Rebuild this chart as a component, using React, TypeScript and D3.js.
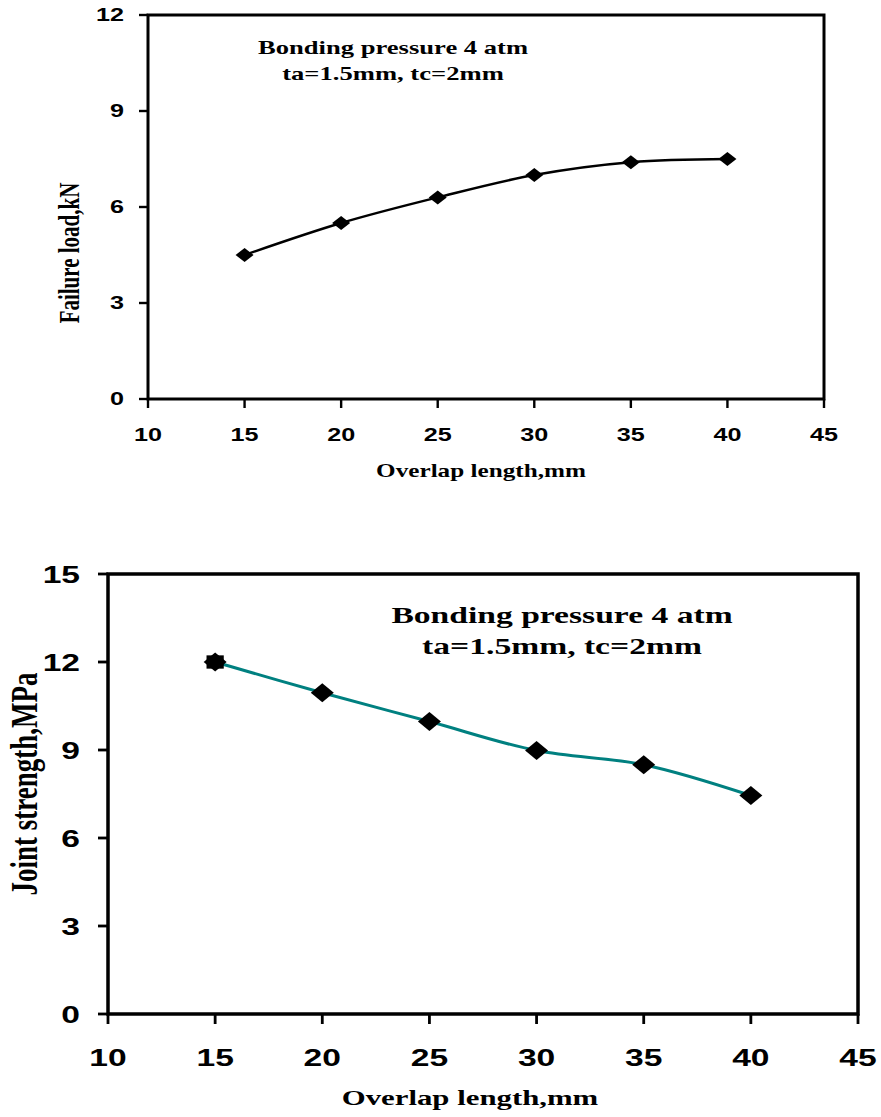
import React from "react";
import * as d3 from "d3";

const overlap = [15, 20, 25, 30, 35, 40];
const failureLoad = [4.5, 5.5, 6.3, 7.0, 7.4, 7.5];
const jointStrength = [12.0, 10.95, 9.97, 8.98, 8.5, 7.45];
const xTicks = [10, 15, 20, 25, 30, 35, 40, 45];
const yTicksTop = [0, 3, 6, 9, 12];
const yTicksBottom = [0, 3, 6, 9, 12, 15];
const titleLines = ["Bonding pressure 4 atm", "ta=1.5mm, tc=2mm"];
const xTitle = "Overlap length,mm";
const yTitleTop = "Failure load,kN";
const yTitleBottom = "Joint strength,MPa";

const SANS = "'Liberation Sans', Arial, sans-serif";
const SERIF = "'Liberation Serif', 'Times New Roman', serif";
const SX = 1.4;

function SText(props: {
  x: number; y: number; size: number; family: string; anchor?: string;
  rotate?: boolean; dy?: string; children: React.ReactNode; sx?: number;
}) {
  const { x, y, size, family, anchor = "middle", rotate = false, dy, children, sx = SX } = props;
  return (
    <g transform={`translate(${x},${y}) scale(${sx},1)${rotate ? " rotate(-90)" : ""}`}>
      <text textAnchor={anchor} fontSize={size} fontFamily={family} fontWeight="bold" dy={dy} fill="#000">
        {children}
      </text>
    </g>
  );
}

function Panel(props: {
  x0: number; x1: number; y0: number; y1: number; yMax: number; yTicks: number[];
  values: number[]; color: string; tickSize: number; tickLen: number; labelGap: number;
  xLabelBaseline: number; titleSize: number; titleX: number; titleY: number[];
  xTitleSize: number; xTitleX: number; xTitleY: number; yTitle: string; yTitleSize: number; yTitleX: number; yTitleY: number;
  markerW: number; markerH: number; lineW: number; frameW: number; firstSquare?: boolean;
}) {
  const p = props;
  const xs = d3.scaleLinear().domain([10, 45]).range([p.x0, p.x1]);
  const ys = d3.scaleLinear().domain([0, p.yMax]).range([p.y1, p.y0]);
  const pts: [number, number][] = overlap.map((o, i) => [xs(o), ys(p.values[i])]);
  const line = d3.line().curve(d3.curveCatmullRom.alpha(0.5))(pts) || "";
  const hw = p.markerW / 2, hh = p.markerH / 2;
  return (
    <g>
      <rect x={p.x0} y={p.y0} width={p.x1 - p.x0} height={p.y1 - p.y0} fill="none" stroke="#000" strokeWidth={p.frameW} />
      {p.yTicks.map((t) => (
        <g key={"y" + t}>
          <line x1={p.x0 - p.tickLen} x2={p.x0} y1={ys(t)} y2={ys(t)} stroke="#000" strokeWidth={p.frameW * 0.8} />
          <SText x={p.x0 - p.tickLen - p.labelGap} y={ys(t)} size={p.tickSize} family={SANS} anchor="end" dy="0.36em">{t}</SText>
        </g>
      ))}
      {xTicks.map((t) => (
        <g key={"x" + t}>
          <line x1={xs(t)} x2={xs(t)} y1={p.y1} y2={p.y1 + p.tickLen} stroke="#000" strokeWidth={p.frameW * 0.8} />
          <SText x={xs(t)} y={p.xLabelBaseline} size={p.tickSize} family={SANS}>{t}</SText>
        </g>
      ))}
      <path d={line} fill="none" stroke={p.color} strokeWidth={p.lineW} />
      {pts.map(([cx, cy], i) => (
        <g key={"m" + i}>
          {p.firstSquare && i === 0 ? (
            <rect x={cx - hw * 0.75} y={cy - hh * 0.7} width={hw * 1.5} height={hh * 1.4} fill="#000" />
          ) : null}
          <path d={`M${cx - hw},${cy}L${cx},${cy - hh}L${cx + hw},${cy}L${cx},${cy + hh}Z`} fill="#000" />
        </g>
      ))}
      {titleLines.map((t, i) => (
        <SText key={"t" + i} x={p.titleX} y={p.titleY[i]} size={p.titleSize} family={SERIF}>{t}</SText>
      ))}
      <SText x={p.xTitleX} y={p.xTitleY} size={p.xTitleSize} family={SERIF}>{xTitle}</SText>
      <SText x={p.yTitleX} y={p.yTitleY} size={p.yTitleSize} family={SERIF} rotate>{p.yTitle}</SText>
    </g>
  );
}

export default function App() {
  return (
    <svg width={881} height={1117} viewBox="0 0 881 1117"
      style={{ display: "block", position: "absolute", left: 0, top: 0 }}>
      <rect x={0} y={0} width={881} height={1117} fill="#fff" />
      <Panel x0={148} x1={824} y0={15} y1={399} yMax={12} yTicks={yTicksTop} values={failureLoad}
        color="#000" tickSize={18} tickLen={9} labelGap={15} xLabelBaseline={441}
        titleSize={19} titleX={393} titleY={[54, 80]} xTitleSize={18} xTitleX={481} xTitleY={477}
        yTitle={yTitleTop} yTitleSize={21} yTitleX={79} yTitleY={253}
        markerW={18} markerH={14} lineW={2.5} frameW={3} />
      <Panel x0={108} x1={858} y0={574} y1={1014} yMax={15} yTicks={yTicksBottom} values={jointStrength}
        color="#008080" tickSize={24} tickLen={10} labelGap={18} xLabelBaseline={1066}
        titleSize={24} titleX={562} titleY={[623, 654]} xTitleSize={22} xTitleX={470} xTitleY={1105}
        yTitle={yTitleBottom} yTitleSize={27} yTitleX={37} yTitleY={784}
        markerW={23} markerH={19} lineW={3} frameW={3.5} firstSquare />
    </svg>
  );
}
